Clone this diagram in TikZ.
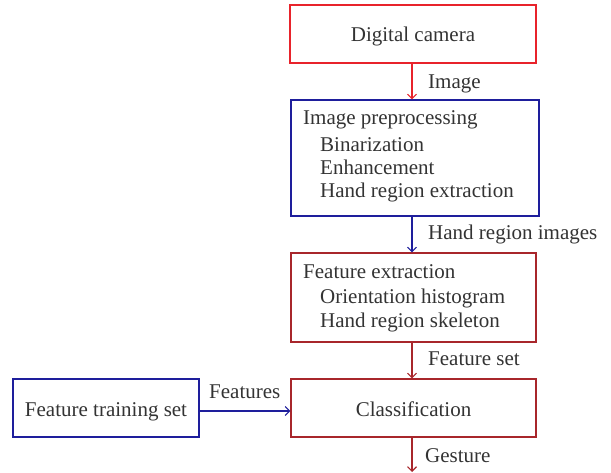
\documentclass[tikz,border=0pt]{standalone}
\usepackage{fontspec}
\setmainfont{Liberation Serif}
\usetikzlibrary{arrows.meta}
\definecolor{cred}{HTML}{E8232B}
\definecolor{cblue}{HTML}{1E1E9C}
\definecolor{cdred}{HTML}{A8262B}
\definecolor{ctext}{HTML}{333333}
\tikzset{
  box/.style={draw, line width=1.1pt, inner sep=0pt},
  txt/.style={text=ctext, font=\fontsize{21}{25}\selectfont, inner sep=0pt, text height=16pt, text depth=2pt},
  conn/.style={line width=1.1pt, -{Straight Barb[length=4.5pt,width=9pt,line width=1.1pt]}},
}
\begin{document}
\begin{tikzpicture}[x=1pt,y=-1pt]
\useasboundingbox (0,0) rectangle (611,473);
% boxes
\node[box, draw=cred, minimum width=246pt, minimum height=58pt] (b1) at (413,34) {};
\node[txt] (t1) at (413,35) {Digital camera};
\node[box, draw=cblue, minimum width=248pt, minimum height=116pt] (b2) at (415,158) {};
\node[txt, anchor=west] (t2a) at (303,118) {Image preprocessing};
\node[txt, anchor=west] (t2b) at (320,145) {Binarization};
\node[txt, anchor=west] (t2c) at (320,168) {Enhancement};
\node[txt, anchor=west] (t2d) at (320,191) {Hand region extraction};
\node[box, draw=cdred, minimum width=245pt, minimum height=89pt] (b3) at (413.5,297.5) {};
\node[txt, anchor=west] (t3a) at (303,272) {Feature extraction};
\node[txt, anchor=west] (t3b) at (320,297) {Orientation histogram};
\node[txt, anchor=west] (t3c) at (320,320) {Hand region skeleton};
\node[box, draw=cdred, minimum width=245pt, minimum height=58pt] (b4) at (413.5,408) {};
\node[txt] (t4) at (413.5,409) {Classification};
\node[box, draw=cblue, minimum width=186pt, minimum height=58pt] (b5) at (106,408) {};
\node[txt] (t5) at (106,409) {Feature training set};
\coordinate (e1) at (412,472);
% connectors
\draw[conn, draw=cred] (b1.south -| e1) -- (b2.north -| e1);
\draw[conn, draw=cblue] (b2.south -| e1) -- (b3.north -| e1);
\draw[conn, draw=cdred] (b3.south -| e1) -- (b4.north -| e1);
\draw[conn, draw=cdred] (b4.south -| e1) -- (e1);
\draw[conn, draw=cblue] (b5.east |- 0,411) -- (b4.west |- 0,411);
% labels
\node[txt, anchor=west] (l1) at (428,82) {Image};
\node[txt, anchor=west] (l2) at (428,233) {Hand region images};
\node[txt, anchor=west] (l3) at (428,358) {Feature set};
\node[txt, anchor=west] (l4) at (425,455) {Gesture};
\node[txt, anchor=west] (l5) at (209,391) {Features};
\end{tikzpicture}
\end{document}
